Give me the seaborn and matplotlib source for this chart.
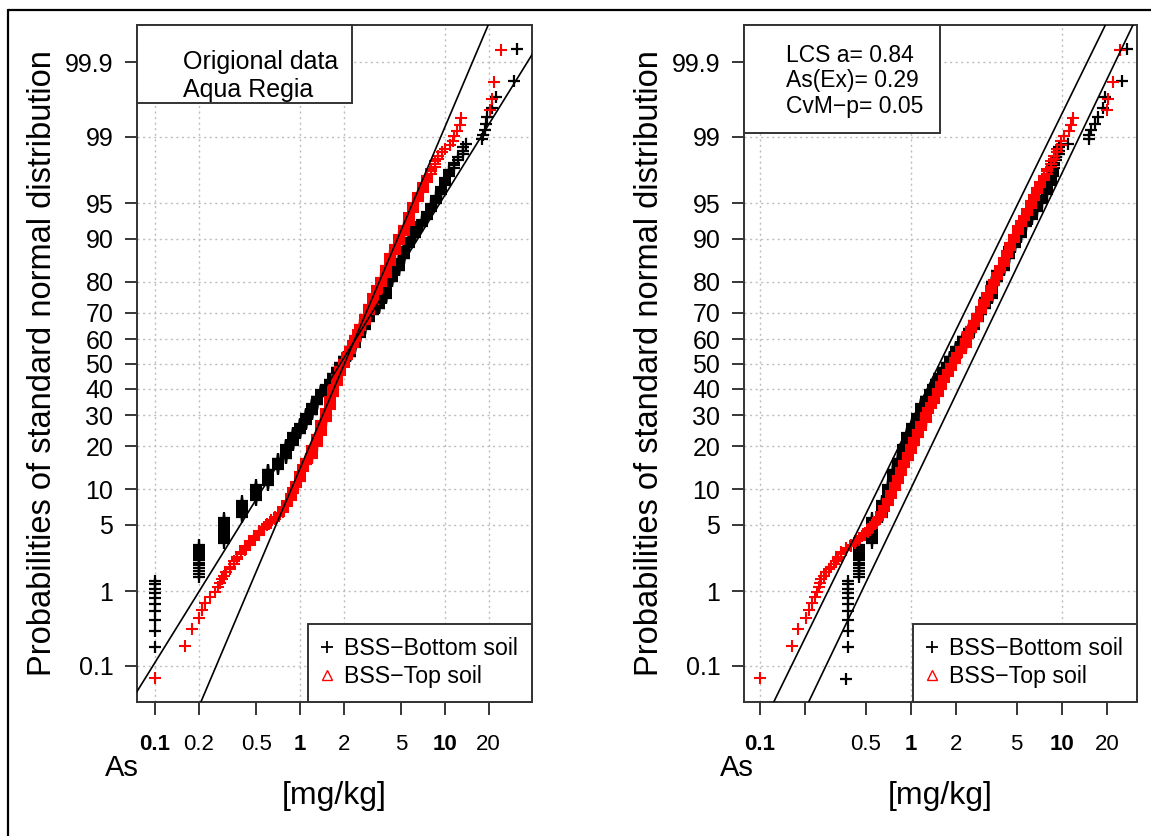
import math
import numpy as np
import pandas as pd
import matplotlib
matplotlib.use("Agg")
import matplotlib.pyplot as plt
import seaborn as sns
from matplotlib.lines import Line2D
from matplotlib.patches import Rectangle
from matplotlib.ticker import NullLocator

# ---------------- data ----------------
# Bottom soil: measured concentrations (rounded values) and cumulative number of samples <= value
bottom_orig_values = [0.05, 0.1, 0.2, 0.3, 0.4, 0.5, 0.6, 0.7, 0.8, 0.9, 1.0, 1.1, 1.2, 1.3, 1.4,
                      1.5, 1.6, 1.7, 1.8, 1.9, 2.0, 2.2, 2.4, 2.6, 2.8, 3.0, 3.2, 3.5, 3.9, 4.3,
                      4.8, 5.2, 5.6, 6.2, 6.9, 7.5, 8.0, 8.7, 9.4, 10.0, 10.7, 11.5, 12.2, 13.2,
                      14.0, 17.9, 18.4, 18.8, 19.2, 19.5, 21.1, 22.5, 29.7, 31.4]
bottom_cum = [1, 11, 26, 46, 64, 85, 111, 132, 161, 189, 213, 240, 269, 292, 312,
              327, 344, 363, 383, 399, 419, 450, 482, 506, 529, 549, 566, 593, 633, 656,
              679, 699, 713, 727, 735, 743, 750, 757, 763, 768, 772, 775, 777, 780,
              781, 782, 783, 784, 785, 786, 787, 788, 789, 790]
# Bottom soil after LCS transformation (same samples, same counts)
bottom_lcs_values = [0.37, 0.38, 0.45, 0.55, 0.645, 0.70, 0.765, 0.82, 0.88, 0.94, 1.01, 1.09, 1.17, 1.26, 1.34,
                     1.40, 1.46, 1.54, 1.63, 1.72, 1.82, 1.98, 2.22, 2.42, 2.62, 2.78, 2.92, 3.07, 3.42, 3.74,
                     4.1, 4.45, 4.85, 5.35, 5.75, 6.3, 6.84, 7.4, 8.0, 8.4, 8.7, 8.9, 9.1, 9.5,
                     11.0, 15.0, 15.2, 15.5, 16.6, 17.3, 18.8, 19.3, 25.0, 27.0]

# Top soil: original data
top_orig_values = [0.1, 0.16, 0.18, 0.2, 0.21, 0.22, 0.24, 0.26, 0.27, 0.28, 0.29, 0.3, 0.31,
                   0.33, 0.35, 0.37, 0.39, 0.42, 0.45, 0.48, 0.52, 0.56, 0.59,
                   0.63, 0.67, 0.71, 0.76, 0.81, 0.86, 0.9, 0.94, 1.0, 1.05,
                   1.1, 1.2, 1.3, 1.4, 1.5, 1.6, 1.7, 1.8, 1.9, 2.0,
                   2.1, 2.2, 2.3, 2.4, 2.5, 2.6, 2.8, 3.0, 3.2, 3.4,
                   3.6, 3.9, 4.2, 4.5, 4.8, 5.2, 5.6, 6.0, 6.5, 7.0,
                   7.5, 8.0, 8.5, 9.0, 9.6, 10.0, 10.8, 11.4, 11.6, 12.1,
                   12.6, 12.8, 20.5, 21.0, 21.7, 24.3]
top_orig_cum = [1, 2, 3, 4, 5, 6, 7, 8, 9, 10, 11, 12, 13,
                15, 17, 19, 21, 24, 27, 30, 34, 37, 39,
                42, 45, 49, 55, 62, 70, 78, 87, 103, 115,
                127, 152, 178, 212, 245, 281, 315, 345, 371, 394,
                415, 433, 451, 467, 483, 499, 527, 554, 580, 598,
                617, 641, 661, 676, 689, 701, 714, 723, 730, 736,
                740, 743, 746, 748, 749, 750, 751, 752, 753, 754,
                755, 756, 757, 758, 759, 760]
# Top soil after LCS transformation
top_lcs_values = [0.1, 0.162, 0.179, 0.203, 0.21, 0.22, 0.23, 0.24, 0.245, 0.25,
                  0.255, 0.265, 0.275, 0.285, 0.297, 0.31, 0.32, 0.33, 0.346, 0.37,
                  0.4, 0.423, 0.45, 0.47, 0.492, 0.52, 0.55, 0.58, 0.603, 0.63,
                  0.66, 0.702, 0.74, 0.78, 0.817, 0.86, 0.9, 0.95, 1.0, 1.05,
                  1.107, 1.17, 1.25, 1.3, 1.355, 1.42, 1.5, 1.58, 1.66, 1.75,
                  1.85, 1.95, 2.03, 2.15, 2.3, 2.4, 2.49, 2.6, 2.75, 2.9,
                  3.05, 3.2, 3.4, 3.55, 3.73, 3.9, 4.1, 4.3, 4.56, 4.8,
                  5.1, 5.35, 5.58, 5.9, 6.2, 6.5, 6.84, 7.2, 7.6, 7.96,
                  8.4, 8.9, 9.27, 9.8, 10.3, 11.1, 11.5, 11.9, 19.8, 20.2,
                  21.8, 24.2]
top_lcs_cum = [1, 2, 3, 4, 5, 6, 7, 8, 9, 10,
               11, 12, 13, 14, 15, 16, 17, 19, 21, 23,
               25, 27, 29, 30, 32, 35, 38, 41, 44, 50,
               56, 64, 74, 85, 96, 110, 123, 138, 155, 172,
               190, 210, 234, 248, 262, 281, 304, 325, 342, 362,
               382, 400, 413, 433, 458, 477, 494, 510, 530, 549,
               566, 582, 600, 613, 627, 640, 655, 667, 679, 690,
               700, 706, 711, 718, 724, 729, 733, 737, 740, 743,
               746, 748, 750, 752, 753, 754, 755, 756, 757, 758,
               759, 760]

# Reference lognormal lines: median and sd of log10
fit_median_orig = [1.89, 2.02]
fit_sdlog_orig = [0.418, 0.286]
fit_median_lcs = [1.54, 2.48]
fit_sdlog_lcs = [0.317, 0.310]

y_ticks = [0.1, 1, 5, 10, 20, 30, 40, 50, 60, 70, 80, 90, 95, 99, 99.9]
y_tick_labels = ["0.1", "1", "5", "10", "20", "30", "40", "50", "60", "70", "80", "90", "95", "99", "99.9"]
x_ticks = [0.1, 0.2, 0.5, 1, 2, 5, 10, 20]
x_tick_labels_left = ["0.1", "0.2", "0.5", "1", "2", "5", "10", "20"]
x_tick_labels_right = ["0.1", "", "0.5", "1", "2", "5", "10", "20"]
legend_labels = ["BSS\u2212Bottom soil", "BSS\u2212Top soil"]
box_left_text = ["Origional data", "Aqua Regia"]
box_right_text = ["LCS a= 0.84", "As(Ex)= 0.29", "CvM\u2212p= 0.05"]
ylabel_text = "Probabilities of standard normal distribution"
xlabel_text = "[mg/kg]"
element_text = "As"

# ---------------- normal probability helpers ----------------
_erfc = np.vectorize(math.erfc, otypes=[float])


def norm_cdf(z):
    z = np.asarray(z, dtype=float)
    return 0.5 * _erfc(-z / math.sqrt(2.0))


def norm_ppf(p):
    p = np.asarray(p, dtype=float)
    shape = p.shape
    p = p.ravel()
    a = [-3.969683028665376e+01, 2.209460984245205e+02, -2.759285104469687e+02,
         1.383577518672690e+02, -3.066479806614716e+01, 2.506628277459239e+00]
    b = [-5.447609879822406e+01, 1.615858368580409e+02, -1.556989798598866e+02,
         6.680131188771972e+01, -1.328068155288572e+01]
    c = [-7.784894002430293e-03, -3.223964580411365e-01, -2.400758277161838e+00,
         -2.549732539343734e+00, 4.374664141464968e+00, 2.938163982698783e+00]
    d = [7.784695709041462e-03, 3.224671290700398e-01, 2.445134137142996e+00,
         3.754408661907416e+00]
    plow = 0.02425
    z = np.full_like(p, np.nan)
    lo = p < plow
    hi = p > 1 - plow
    mid = ~(lo | hi) & np.isfinite(p)
    if lo.any():
        q = np.sqrt(-2 * np.log(p[lo]))
        z[lo] = (((((c[0]*q+c[1])*q+c[2])*q+c[3])*q+c[4])*q+c[5]) / ((((d[0]*q+d[1])*q+d[2])*q+d[3])*q+1)
    if mid.any():
        q = p[mid] - 0.5
        r = q * q
        z[mid] = (((((a[0]*r+a[1])*r+a[2])*r+a[3])*r+a[4])*r+a[5])*q / (((((b[0]*r+b[1])*r+b[2])*r+b[3])*r+b[4])*r+1)
    if hi.any():
        q = np.sqrt(-2 * np.log(1 - p[hi]))
        z[hi] = -(((((c[0]*q+c[1])*q+c[2])*q+c[3])*q+c[4])*q+c[5]) / ((((d[0]*q+d[1])*q+d[2])*q+d[3])*q+1)
    return z.reshape(shape)


def prob_forward(pct):
    pct = np.asarray(pct, dtype=float)
    return norm_ppf(np.clip(pct / 100.0, 1e-12, 1 - 1e-12))


def prob_inverse(z):
    return 100.0 * norm_cdf(z)


def expand(values, cum):
    counts = np.diff(np.concatenate([[0], np.asarray(cum)]))
    x = np.repeat(np.asarray(values, dtype=float), counts)
    n = len(x)
    p = 100.0 * (np.arange(1, n + 1) - 0.5) / n
    return pd.DataFrame({"value": x, "prob": p})


# ---------------- style ----------------
sns.set_theme(style="ticks")
plt.rcParams["font.family"] = ["Liberation Sans", "DejaVu Sans"]
plt.rcParams["text.color"] = "black"
plt.rcParams["axes.labelcolor"] = "black"
plt.rcParams["xtick.color"] = "black"
plt.rcParams["ytick.color"] = "black"
plt.rcParams["axes.edgecolor"] = "#333333"

W, H = 1151, 836
AX_TOP, AX_BOT = 25, 702
fig = plt.figure(figsize=(W / 100, H / 100), dpi=100)


def px_axes(l, t, r, b):
    return [l / W, 1 - b / H, (r - l) / W, (b - t) / H]


panels = [
    dict(rect=(137, 532), xlim=(0.075, 39.8), bottom=(bottom_orig_values, bottom_cum),
         top=(top_orig_values, top_orig_cum), fits=(fit_median_orig, fit_sdlog_orig),
         gridx=[0.1, 0.2, 1, 2, 10, 20], xlabels=x_tick_labels_left,
         box=dict(lines=box_left_text, right=352, bottom=103, tx=183, baselines=[69, 97], fs=18),
         as_x=122),
    dict(rect=(744, 1137), xlim=(0.0783, 31.4), bottom=(bottom_lcs_values, bottom_cum),
         top=(top_lcs_values, top_lcs_cum), fits=(fit_median_lcs, fit_sdlog_lcs),
         gridx=[0.1, 1, 10], xlabels=x_tick_labels_right,
         box=dict(lines=box_right_text, right=940, bottom=133, tx=786, baselines=[62, 87.5, 113], fs=16.5),
         as_x=737),
]

for cfg in panels:
    left, right = cfg["rect"]
    ax = fig.add_axes(px_axes(left, AX_TOP, right, AX_BOT))
    axw = right - left
    axh = AX_BOT - AX_TOP
    fx = lambda px: (px - left) / axw
    fy = lambda py: (AX_BOT - py) / axh

    df_b = expand(*cfg["bottom"])
    df_t = expand(*cfg["top"])
    sns.scatterplot(data=df_b, x="value", y="prob", marker="+", color="black",
                    s=85, linewidth=1.6, ax=ax, legend=False, zorder=3)
    sns.scatterplot(data=df_t, x="value", y="prob", marker="+", color="#ff0000",
                    s=85, linewidth=1.5, ax=ax, legend=False, zorder=3)

    ax.set_xscale("log")
    ax.set_yscale("function", functions=(prob_forward, prob_inverse))
    ax.set_xlim(*cfg["xlim"])
    ax.set_ylim(prob_inverse(-3.46), prob_inverse(3.47))

    # fitted reference lines
    zz = np.linspace(-4.5, 4.5, 200)
    for med, sdl in zip(*cfg["fits"]):
        ax.plot(med * 10 ** (sdl * zz), prob_inverse(zz), color="black", lw=1.2, zorder=4)

    # grid
    for gx in cfg["gridx"]:
        ax.axvline(gx, color="#bdbdbd", lw=1.0, ls=(0, (1.5, 2.5)), zorder=0)
    for gy in y_ticks:
        ax.axhline(gy, color="#bdbdbd", lw=1.0, ls=(0, (1.5, 2.5)), zorder=0)

    # ticks
    ax.set_yticks(y_ticks)
    ax.set_yticklabels(y_tick_labels, fontsize=18)
    ax.set_xticks(x_ticks)
    ax.set_xticklabels(cfg["xlabels"], fontsize=16)
    ax.xaxis.set_minor_locator(NullLocator())
    ax.yaxis.set_minor_locator(NullLocator())
    for t in ax.get_xticklabels():
        if t.get_text() in ("0.1", "1", "10"):
            t.set_fontweight("bold")
    ax.tick_params(axis="y", length=9, width=1.1, pad=8, direction="out")
    ax.tick_params(axis="x", length=9, width=1.1, pad=14, direction="out")
    for sp in ax.spines.values():
        sp.set_visible(True)
        sp.set_linewidth(1.4)
        sp.set_color("#333333")

    # labels
    ax.set_ylabel(ylabel_text, fontsize=23.5, va="center")
    ax.yaxis.set_label_coords(fx(left - 94), 0.5)
    ax.set_xlabel(xlabel_text, fontsize=23, va="center")
    ax.xaxis.set_label_coords(0.5, fy(796))
    ax.text(fx(cfg["as_x"]), fy(768), element_text, transform=ax.transAxes,
            ha="center", va="center", fontsize=21, clip_on=False)

    # top-left info box
    b = cfg["box"]
    ax.add_patch(Rectangle((0, fy(b["bottom"])), fx(b["right"]), 1 - fy(b["bottom"]),
                           transform=ax.transAxes, facecolor="white", edgecolor="#333333",
                           lw=1.4, zorder=6, clip_on=False))
    for line, bl in zip(b["lines"], b["baselines"]):
        ax.text(fx(b["tx"]), fy(bl), line, transform=ax.transAxes, ha="left",
                va="baseline", fontsize=b["fs"], zorder=7)

    # legend
    handles = [Line2D([], [], ls="none", marker="+", color="black", markersize=9, mew=1.3),
               Line2D([], [], ls="none", marker="^", mfc="none", mec="#ff0000", markersize=7, mew=1.0)]
    leg = ax.legend(handles=handles, labels=legend_labels, loc="lower right", borderaxespad=0,
                    fancybox=False, framealpha=1, edgecolor="#333333", fontsize=16.7,
                    borderpad=0.6, handlelength=0.45, handletextpad=0.5, labelspacing=0.2)
    leg.get_frame().set_linewidth(1.4)
    leg.set_zorder(8)

# figure border (top and left)
fig.add_artist(Line2D([8 / W, 1], [1 - 10 / H, 1 - 10 / H], transform=fig.transFigure,
                      color="black", lw=1.6))
fig.add_artist(Line2D([8 / W, 8 / W], [0, 1 - 10 / H], transform=fig.transFigure,
                      color="black", lw=1.6))

fig.savefig("out.png", dpi=100)
